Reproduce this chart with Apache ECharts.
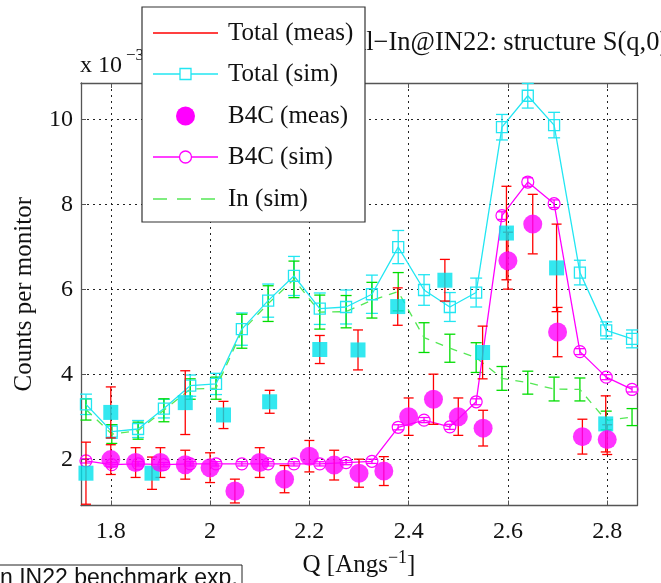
<!DOCTYPE html>
<html>
<head>
<meta charset="utf-8">
<script src="https://cdn.jsdelivr.net/npm/echarts@6/dist/echarts.min.js"></script>
<style>
  html, body { margin: 0; padding: 0; background: #fff; }
  #chart { width: 661px; height: 583px; }
</style>
</head>
<body>
<div id="chart"></div>
<script>
// simulated curves, on the sim q grid
const qSim = [1.75, 1.802, 1.855, 1.907, 1.96, 2.012, 2.064, 2.117, 2.169, 2.221, 2.274,
              2.326, 2.379, 2.431, 2.483, 2.536, 2.588, 2.64, 2.693, 2.745, 2.798, 2.85];
const totalSim    = [3.30, 2.66, 2.72, 3.20, 3.74, 3.78, 5.07, 5.74, 6.32, 5.55, 5.59,
                     5.89, 7.00, 5.99, 5.59, 5.93, 9.82, 10.56, 9.87, 6.40, 5.04, 4.84];
const totalSimErr = [0.24, 0.16, 0.20, 0.22, 0.25, 0.25, 0.38, 0.39, 0.46, 0.37, 0.40,
                     0.45, 0.39, 0.36, 0.34, 0.34, 0.30, 0.29, 0.30, 0.29, 0.20, 0.21];
const b4cSim      = [1.97, 1.88, 1.90, 1.88, 1.90, 1.90, 1.90, 1.90, 1.90, 1.90, 1.93,
                     1.96, 2.76, 2.93, 2.77, 3.36, 7.74, 8.53, 8.02, 4.54, 3.94, 3.65];
const b4cSimErr   = [0.05, 0.05, 0.05, 0.05, 0.05, 0.05, 0.05, 0.05, 0.05, 0.05, 0.05,
                     0.05, 0.06, 0.06, 0.06, 0.07, 0.09, 0.10, 0.09, 0.07, 0.06, 0.06];
const inSim       = [3.18, 2.60, 2.68, 3.16, 3.66, 3.68, 5.02, 5.67, 6.24, 5.47, 5.48,
                     5.75, 5.95, 4.87, 4.62, 4.40, 3.91, 3.81, 3.66, 3.65, 2.92, 3.00];
const inSimErr    = [0.25, 0.22, 0.20, 0.27, 0.24, 0.26, 0.40, 0.42, 0.43, 0.40, 0.38,
                     0.42, 0.45, 0.35, 0.33, 0.35, 0.28, 0.27, 0.28, 0.27, 0.22, 0.20];

// measured total
const qTotMeas   = [1.75, 1.80, 1.883, 1.95, 2.027, 2.12, 2.221, 2.298, 2.378, 2.473, 2.549, 2.597, 2.698, 2.797];
const totMeas    = [1.68, 3.11, 1.68, 3.34, 3.05, 3.36, 4.59, 4.58, 5.60, 6.22, 4.52, 7.33, 6.51, 2.84];
const totMeasErr = [0.73, 0.60, 0.38, 0.75, 0.32, 0.27, 0.33, 0.47, 0.44, 0.49, 0.62, 1.10, 1.03, 0.66];

// measured B4C
const qB4cMeas   = [1.80, 1.85, 1.90, 1.95, 2.00, 2.05, 2.10, 2.15, 2.20, 2.25, 2.30,
                    2.35, 2.40, 2.45, 2.50, 2.55, 2.60, 2.65, 2.70, 2.75, 2.80];
const b4cMeas    = [2.00, 1.93, 1.93, 1.88, 1.81, 1.26, 1.93, 1.54, 2.08, 1.87, 1.68,
                    1.73, 3.01, 3.42, 3.01, 2.74, 6.68, 7.54, 5.00, 2.54, 2.47];
const b4cMeasErr = [0.35, 0.35, 0.35, 0.34, 0.35, 0.28, 0.35, 0.32, 0.37, 0.35, 0.33,
                    0.34, 0.44, 0.59, 0.44, 0.42, 0.67, 0.70, 0.58, 0.41, 0.35];

const xTicks = [1.8, 2, 2.2, 2.4, 2.6, 2.8];
const yTicks = [2, 4, 6, 8, 10];

const RED = '#ff0000', CYAN = '#22e6f2', CYANF = '#00e2ec', MAG = '#ff00ff', GREEN = '#00dd00', GREEND = '#55e855';
const SERIF = 'Liberation Serif';

const pairs = (xs, ys) => xs.map((x, i) => [x, ys[i]]);
const triples = (xs, ys, es) => xs.map((x, i) => [x, ys[i], es[i]]);

// vertical error bar with caps, clipped to the plot box
function errBar(cap) {
  return function (params, api) {
    const x = api.value(0), y = api.value(1), e = api.value(2);
    const cs = params.coordSys;
    const top = api.coord([x, y + e]);
    const bot = api.coord([x, y - e]);
    const lo = cs.y, hi = cs.y + cs.height;
    const t = Math.max(lo, top[1]), b = Math.min(hi, bot[1]);
    const style = { stroke: api.visual('color'), lineWidth: 1.3 };
    const kids = [{ type: 'line', shape: { x1: top[0], y1: t, x2: top[0], y2: b }, style }];
    if (top[1] >= lo) kids.push({ type: 'line', shape: { x1: top[0] - cap, y1: top[1], x2: top[0] + cap, y2: top[1] }, style });
    if (bot[1] <= hi) kids.push({ type: 'line', shape: { x1: bot[0] - cap, y1: bot[1], x2: bot[0] + cap, y2: bot[1] }, style });
    return { type: 'group', children: kids };
  };
}

const chart = echarts.init(document.getElementById('chart'));

const boxAxisLine = { show: true, onZero: false, lineStyle: { color: '#555', width: 1.3 } };
const gridLine = { show: true, lineStyle: { color: '#222', width: 1, type: [2, 4] } };

// legend drawn as a MATLAB-style box
const legX = 142, legY = 7, legW = 223, legH = 215;
const rowY = [33, 74, 116, 157, 199];
const icoL = 153, icoR = 218, icoM = 185.5, txtX = 228;
const legNames = ['Total (meas)', 'Total (sim)', 'B4C (meas)', 'B4C (sim)', 'In (sim)'];
const Z = 100;
const legendEls = [
  { type: 'rect', z: Z, shape: { x: legX, y: legY, width: legW, height: legH },
    style: { fill: '#fff', stroke: '#333', lineWidth: 1.2 } },
  { type: 'line', z: Z + 1, shape: { x1: icoL, y1: rowY[0], x2: icoR, y2: rowY[0] }, style: { stroke: RED, lineWidth: 1.3 } },
  { type: 'line', z: Z + 1, shape: { x1: icoL, y1: rowY[1], x2: icoR, y2: rowY[1] }, style: { stroke: CYAN, lineWidth: 1.3 } },
  { type: 'rect', z: Z + 2, shape: { x: icoM - 5.5, y: rowY[1] - 5.5, width: 11, height: 11 }, style: { fill: '#fff', stroke: CYAN, lineWidth: 1.3 } },
  { type: 'circle', z: Z + 1, shape: { cx: icoM, cy: rowY[2], r: 9.5 }, style: { fill: MAG } },
  { type: 'line', z: Z + 1, shape: { x1: icoL, y1: rowY[3], x2: icoR, y2: rowY[3] }, style: { stroke: MAG, lineWidth: 1.3 } },
  { type: 'circle', z: Z + 2, shape: { cx: icoM, cy: rowY[3], r: 6 }, style: { fill: '#fff', stroke: MAG, lineWidth: 1.3 } },
  { type: 'line', z: Z + 1, shape: { x1: icoL, y1: rowY[4], x2: icoR, y2: rowY[4] }, style: { stroke: GREEND, lineWidth: 1.3, lineDash: [14, 10] } }
].concat(legNames.map((n, i) => ({
  type: 'text', z: Z + 1, x: txtX, y: rowY[i],
  style: { text: n, font: '25px "Liberation Serif"', fill: '#111', verticalAlign: 'middle' }
})));

const option = {
  animation: false,
  backgroundColor: '#fff',
  textStyle: { fontFamily: SERIF },
  grid: { left: 81, right: 24, top: 83, bottom: 72 },
  xAxis: [
    {
      type: 'value', min: 1.74, max: 2.86,
      name: 'Q [Angs{sup|−1}]', nameLocation: 'middle', nameGap: 44,
      nameTextStyle: { fontSize: 25, color: '#111', fontFamily: SERIF,
        rich: { sup: { fontSize: 18, fontFamily: SERIF, color: '#111', padding: [0, 0, 14, 0] } } },
      axisLine: boxAxisLine,
      axisTick: { show: true, inside: true, length: 5, customValues: xTicks, lineStyle: { color: '#555' } },
      axisLabel: { customValues: xTicks, fontSize: 24, color: '#111', margin: 14, fontFamily: SERIF },
      splitLine: gridLine
    },
    {
      type: 'value', min: 1.74, max: 2.86, position: 'top',
      axisLine: boxAxisLine,
      axisTick: { show: true, inside: true, length: 5, customValues: xTicks, lineStyle: { color: '#555' } },
      axisLabel: { show: false }, splitLine: { show: false }
    }
  ],
  yAxis: [
    {
      type: 'value', min: 0.92, max: 10.86,
      name: 'Counts per monitor', nameLocation: 'middle', nameGap: 44, nameRotate: 90,
      nameTextStyle: { fontSize: 25, color: '#111', fontFamily: SERIF },
      axisLine: boxAxisLine,
      axisTick: { show: true, inside: true, length: 5, customValues: yTicks, lineStyle: { color: '#555' } },
      axisLabel: { customValues: yTicks, fontSize: 24, color: '#111', margin: 8, fontFamily: SERIF },
      splitLine: gridLine
    },
    {
      type: 'value', min: 0.92, max: 10.86, position: 'right',
      axisLine: boxAxisLine,
      axisTick: { show: true, inside: true, length: 5, customValues: yTicks, lineStyle: { color: '#555' } },
      axisLabel: { show: false }, splitLine: { show: false }
    }
  ],
  graphic: [
    { type: 'text', z: 50, x: 80, y: 66,
      style: { text: 'x 10', font: '24px "Liberation Serif"', fill: '#111', verticalAlign: 'middle' } },
    { type: 'text', z: 50, x: 126, y: 56,
      style: { text: '−3', font: '17px "Liberation Serif"', fill: '#111', verticalAlign: 'middle' } },
    { type: 'text', z: 50, x: 347, y: 43,
      style: { text: 'Al−In@IN22: structure S(q,0)', font: '26.5px "Liberation Serif"', fill: '#111', verticalAlign: 'middle' } },
    { type: 'rect', z: 50, shape: { x: -2, y: 565, width: 244, height: 30 },
      style: { fill: 'none', stroke: '#222', lineWidth: 1 } },
    { type: 'text', z: 50, x: 0, y: 579,
      style: { text: 'n IN22 benchmark exp.', font: '23px "Liberation Sans"', fill: '#111', verticalAlign: 'middle' } }
  ].concat(legendEls),
  series: [
    { type: 'custom', name: 'Total (sim) err', renderItem: errBar(6), itemStyle: { color: CYAN },
      encode: { x: 0, y: 1 }, data: triples(qSim, totalSim, totalSimErr), z: 2 },
    { type: 'line', name: 'Total (sim)', data: pairs(qSim, totalSim), symbol: 'rect', symbolSize: 11,
      lineStyle: { color: CYAN, width: 1.3 }, itemStyle: { color: 'transparent', borderColor: CYAN, borderWidth: 1.3 }, z: 3 },
    { type: 'custom', name: 'In (sim) err', renderItem: errBar(5.5), itemStyle: { color: GREEN },
      encode: { x: 0, y: 1 }, data: triples(qSim, inSim, inSimErr), z: 3 },
    { type: 'line', name: 'In (sim)', data: pairs(qSim, inSim), symbol: 'none',
      lineStyle: { color: GREEND, width: 1.3, type: [8, 7] }, z: 3 },
    { type: 'custom', name: 'B4C (sim) err', renderItem: errBar(5), itemStyle: { color: MAG },
      encode: { x: 0, y: 1 }, data: triples(qSim, b4cSim, b4cSimErr), z: 3 },
    { type: 'line', name: 'B4C (sim)', data: pairs(qSim, b4cSim), symbol: 'circle', symbolSize: 12,
      lineStyle: { color: MAG, width: 1.3 }, itemStyle: { color: 'transparent', borderColor: MAG, borderWidth: 1.2 }, z: 3 },
    { type: 'custom', name: 'Total (meas) err', renderItem: errBar(5), itemStyle: { color: RED },
      encode: { x: 0, y: 1 }, data: triples(qTotMeas, totMeas, totMeasErr), z: 4 },
    { type: 'scatter', name: 'Total (meas)', data: pairs(qTotMeas, totMeas), symbol: 'rect', symbolSize: 15,
      itemStyle: { color: CYANF }, z: 5 },
    { type: 'custom', name: 'B4C (meas) err', renderItem: errBar(5), itemStyle: { color: RED },
      encode: { x: 0, y: 1 }, data: triples(qB4cMeas, b4cMeas, b4cMeasErr), z: 5 },
    { type: 'scatter', name: 'B4C (meas)', data: pairs(qB4cMeas, b4cMeas), symbol: 'circle', symbolSize: 19,
      itemStyle: { color: MAG }, z: 6 }
  ]
};

chart.setOption(option);
</script>
</body>
</html>
